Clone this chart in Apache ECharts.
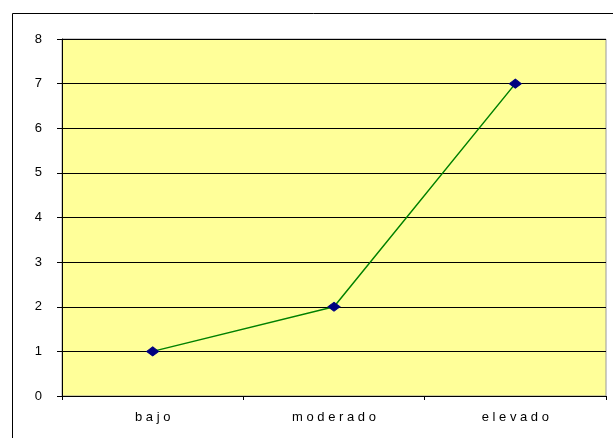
<!DOCTYPE html>
<html>
<head>
<meta charset="utf-8">
<script src="https://cdn.jsdelivr.net/npm/echarts@6/dist/echarts.min.js"></script>
<style>
  html, body { margin: 0; padding: 0; background: #ffffff; }
  #chart { width: 613px; height: 438px; }
</style>
</head>
<body>
<div id="chart"></div>
<script>
// Categories and series values
const categories = ['bajo', 'moderado', 'elevado'];
const values = [1, 2, 7];
const yTicks = [0, 1, 2, 3, 4, 5, 6, 7, 8];

const chart = echarts.init(document.getElementById('chart'), null, { renderer: 'canvas' });

chart.setOption({
  animation: false,
  backgroundColor: '#ffffff',
  graphic: [{
    type: 'rect',
    left: 10, top: 11,
    shape: { width: 620, height: 440 },
    style: { fill: 'none', stroke: '#000000', lineWidth: 1 },
    silent: true,
    z: -10
  }],
  grid: {
    left: 62, top: 39, right: 7, bottom: 42,
    show: true,
    backgroundColor: '#FFFF99',
    borderColor: '#9a9a9a',
    borderWidth: 1
  },
  xAxis: {
    type: 'category',
    data: categories,
    boundaryGap: true,
    axisLine: { show: true, lineStyle: { color: '#000000', width: 1 } },
    axisTick: { show: true, interval: 0, length: 4, lineStyle: { color: '#000000' } },
    axisLabel: {
      interval: 0,
      margin: 15,
      color: '#000000',
      fontFamily: 'Liberation Sans, Arial, sans-serif',
      fontSize: 13,
      formatter: v => v.split('').join(' ')
    },
    splitLine: { show: false }
  },
  yAxis: {
    type: 'value',
    min: yTicks[0],
    max: yTicks[yTicks.length - 1],
    interval: 1,
    axisLine: { show: true, lineStyle: { color: '#000000', width: 1 } },
    axisTick: { show: true, length: 5, lineStyle: { color: '#000000' } },
    axisLabel: {
      margin: 20,
      color: '#000000',
      fontFamily: 'Liberation Sans, Arial, sans-serif',
      fontSize: 13
    },
    splitLine: { show: true, lineStyle: { color: '#000000', width: 1 } }
  },
  series: [{
    type: 'line',
    data: values,
    lineStyle: { color: '#008000', width: 1.5 },
    symbol: 'diamond',
    symbolSize: [12, 9],
    itemStyle: { color: '#000080', borderColor: '#000080' },
    z: 5
  }]
});
</script>
</body>
</html>
